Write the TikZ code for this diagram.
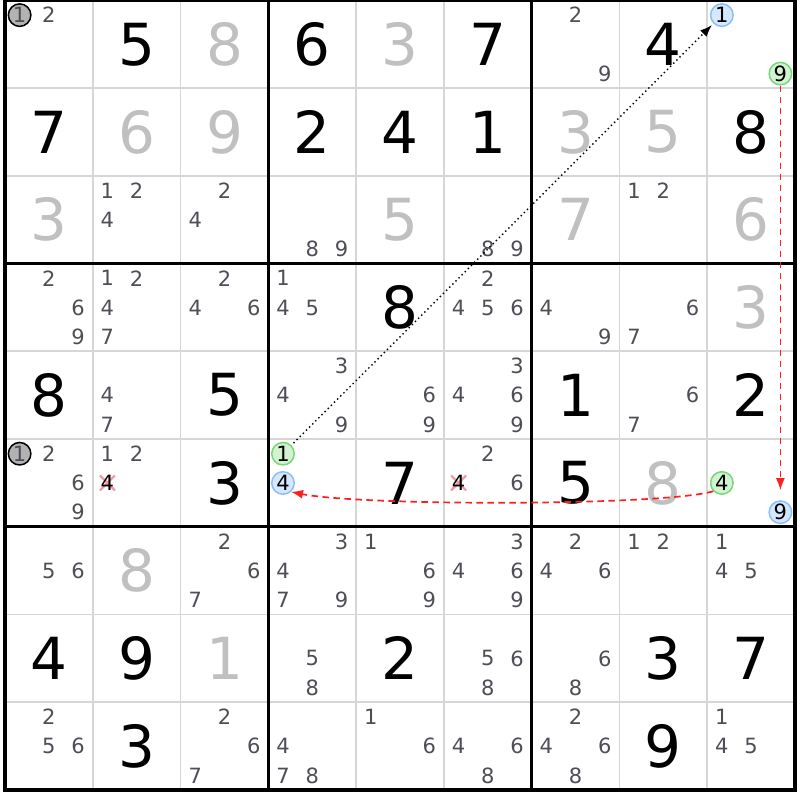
\documentclass[tikz,border=0pt]{standalone}
\usepackage{fontspec}
\setmainfont{DejaVu Sans}
\usetikzlibrary{arrows.meta}
\definecolor{candc}{RGB}{78,78,86}
\definecolor{solvc}{RGB}{192,192,192}
\definecolor{gridc}{RGB}{214,214,214}
\definecolor{redc}{RGB}{255,30,30}
\definecolor{xc}{RGB}{245,150,162}
\definecolor{grfill}{RGB}{210,242,210}
\definecolor{grdraw}{RGB}{120,215,120}
\definecolor{blfill}{RGB}{214,232,255}
\definecolor{bldraw}{RGB}{140,190,250}
\definecolor{gyfill}{RGB}{178,178,178}
\newcommand\SDval[4]{\node[#4] (v#1#2) at ({5+(#2+0.5)*87.78},{0.5+(#1+0.5)*87.72}) {#3};}
\newcommand\SDcands[3]{\foreach \k in {#3}{%
  \pgfmathtruncatemacro\sc{mod(\k-1,3)}\pgfmathtruncatemacro\sr{(\k-1)/3}%
  \node[cand] (c#1#2\k) at ({5+#2*87.78+(\sc+0.5)*29.26},{0.5+#1*87.72+(\sr+0.5)*29.24}) {\k};}}
\newcommand\SDmark[5]{%
  \pgfmathtruncatemacro\sc{mod(#3-1,3)}\pgfmathtruncatemacro\sr{(#3-1)/3}%
  \node[#4] (#5) at ({5+#2*87.78+(\sc+0.5)*29.26},{0.5+#1*87.72+(\sr+0.5)*29.24}) {#3};}
\newcommand\SDcross[4]{%
  \pgfmathtruncatemacro\sc{mod(#3-1,3)}\pgfmathtruncatemacro\sr{(#3-1)/3}%
  \coordinate (#4p) at ({5+#2*87.78+(\sc+0.5)*29.26},{0.5+#1*87.72+(\sr+0.5)*29.24});
  \draw[xmark] (#4p) +(-7.5,-7.5) -- +(7.5,7.5) +(-7.5,7.5) -- +(7.5,-7.5);
  \node[cand, text=black] (#4) at (#4p) {#3};}
\begin{document}
\begin{tikzpicture}[x=1pt,y=-1pt,
  given/.style={font=\fontsize{58}{58}\selectfont, text=black, inner sep=0pt},
  solved/.style={given, text=solvc},
  cand/.style={font=\fontsize{21}{21}\selectfont, text=candc, inner sep=0pt},
  hl/.style={circle, inner sep=0pt, minimum size=22.5pt, line width=1.5pt, font=\fontsize{21}{21}\selectfont},
  hlgreen/.style={hl, draw=grdraw, fill=grfill, text=black},
  hlblue/.style={hl, draw=bldraw, fill=blfill, text=black},
  hlgray/.style={hl, draw=black, fill=gyfill, text=candc},
  xmark/.style={xc, line width=2.2pt},
  gridthin/.style={gridc, line width=1.8pt},
  gridthick/.style={black, line width=3.3pt},
  redlink/.style={redc, line width=1.7pt, dash pattern=on 6.5pt off 4.5pt, -{Latex[length=12pt,width=9pt]}},
  dotlink/.style={black, line width=1.4pt, dash pattern=on 1.4pt off 3pt, -{Latex[length=12pt,width=9pt]}}
]
\fill[white] (0,0) rectangle (800,800);
\useasboundingbox (0,0) rectangle (800,800);
% grid
\foreach \i in {1,2,4,5,7,8}{
  \draw[gridthin] ({5+\i*87.78},0.5) -- ({5+\i*87.78},790);
  \draw[gridthin] (5,{0.5+\i*87.72}) -- (795,{0.5+\i*87.72});
}
\foreach \i in {0,3,6,9}{
  \draw[gridthick] ({5+\i*87.78},0.5) -- ({5+\i*87.78},790);
  \draw[gridthick] (5,{0.5+\i*87.72}) -- (795,{0.5+\i*87.72});
}
\draw[gridthick, line cap=rect] (5,0.5) rectangle (795,790);
% values
\SDval{0}{1}{5}{given}\SDval{0}{2}{8}{solved}\SDval{0}{3}{6}{given}\SDval{0}{4}{3}{solved}\SDval{0}{5}{7}{given}\SDval{0}{7}{4}{given}
\SDval{1}{0}{7}{given}\SDval{1}{1}{6}{solved}\SDval{1}{2}{9}{solved}\SDval{1}{3}{2}{given}\SDval{1}{4}{4}{given}\SDval{1}{5}{1}{given}\SDval{1}{6}{3}{solved}\SDval{1}{7}{5}{solved}\SDval{1}{8}{8}{given}
\SDval{2}{0}{3}{solved}\SDval{2}{4}{5}{solved}\SDval{2}{6}{7}{solved}\SDval{2}{8}{6}{solved}
\SDval{3}{4}{8}{given}\SDval{3}{8}{3}{solved}
\SDval{4}{0}{8}{given}\SDval{4}{2}{5}{given}\SDval{4}{6}{1}{given}\SDval{4}{8}{2}{given}
\SDval{5}{2}{3}{given}\SDval{5}{4}{7}{given}\SDval{5}{6}{5}{given}\SDval{5}{7}{8}{solved}
\SDval{6}{1}{8}{solved}
\SDval{7}{0}{4}{given}\SDval{7}{1}{9}{given}\SDval{7}{2}{1}{solved}\SDval{7}{4}{2}{given}\SDval{7}{7}{3}{given}\SDval{7}{8}{7}{given}
\SDval{8}{1}{3}{given}\SDval{8}{7}{9}{given}
% candidates
\SDcands{0}{0}{2}\SDcands{0}{6}{2,9}
\SDcands{2}{1}{1,2,4}\SDcands{2}{2}{2,4}\SDcands{2}{3}{8,9}\SDcands{2}{5}{8,9}\SDcands{2}{7}{1,2}
\SDcands{3}{0}{2,6,9}\SDcands{3}{1}{1,2,4,7}\SDcands{3}{2}{2,4,6}\SDcands{3}{3}{1,4,5}\SDcands{3}{5}{2,4,5,6}\SDcands{3}{6}{4,9}\SDcands{3}{7}{6,7}
\SDcands{4}{1}{4,7}\SDcands{4}{3}{3,4,9}\SDcands{4}{4}{6,9}\SDcands{4}{5}{3,4,6,9}\SDcands{4}{7}{6,7}
\SDcands{5}{0}{2,6,9}\SDcands{5}{1}{1,2}\SDcands{5}{5}{2,6}
\SDcands{6}{0}{5,6}\SDcands{6}{2}{2,6,7}\SDcands{6}{3}{3,4,7,9}\SDcands{6}{4}{1,6,9}\SDcands{6}{5}{3,4,6,9}\SDcands{6}{6}{2,4,6}\SDcands{6}{7}{1,2}\SDcands{6}{8}{1,4,5}
\SDcands{7}{3}{5,8}\SDcands{7}{5}{5,6,8}\SDcands{7}{6}{6,8}
\SDcands{8}{0}{2,5,6}\SDcands{8}{2}{2,6,7}\SDcands{8}{3}{4,7,8}\SDcands{8}{4}{1,6}\SDcands{8}{5}{4,6,8}\SDcands{8}{6}{2,4,6,8}\SDcands{8}{8}{1,4,5}
% eliminated candidates
\SDcross{5}{1}{4}{x51}
\SDcross{5}{5}{4}{x55}
% highlighted candidates
\SDmark{0}{0}{1}{hlgray}{g00}
\SDmark{5}{0}{1}{hlgray}{g50}
\SDmark{0}{8}{1}{hlblue}{b08}
\SDmark{0}{8}{9}{hlgreen}{e08}
\SDmark{5}{3}{1}{hlgreen}{e53}
\SDmark{5}{3}{4}{hlblue}{b53}
\SDmark{5}{8}{4}{hlgreen}{e58}
\SDmark{5}{8}{9}{hlblue}{b58}
% links
\draw[dotlink, shorten <=3pt, shorten >=2pt] (e53) -- (b08);
\draw[redlink, shorten >=10pt] (e08) -- (b58);
\draw[redlink] (e58.224) .. controls +(-54,15) and +(70,14) .. (b53.-48);
\end{tikzpicture}
\end{document}
